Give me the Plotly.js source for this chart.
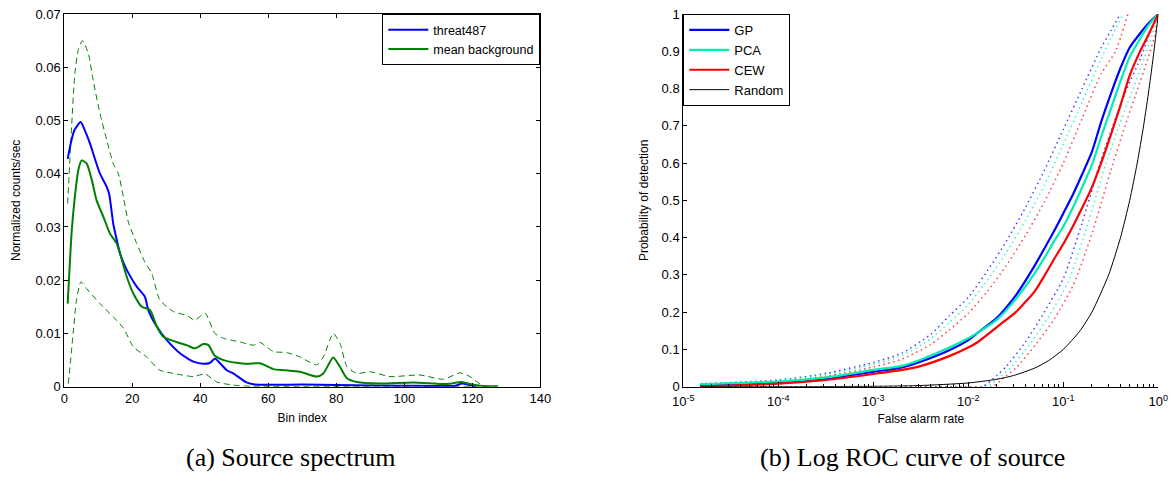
<!DOCTYPE html>
<html>
<head>
<meta charset="utf-8">
<script src="https://cdn.plot.ly/plotly-3.0.1.min.js"></script>
<style>html,body{margin:0;padding:0;background:#fff;}#chart{width:1171px;height:482px;}</style>
</head>
<body>
<div id="chart"></div>
<script>
// ---------- (a) Source spectrum ----------
const threatBins = [1, 2, 3, 4.8, 6, 7.6, 9, 10.5, 12.5, 13.2, 14.4, 15, 16.4, 18.4, 21.3, 23.7, 24.7, 27.2, 30.1, 34, 38, 40.9, 42.9, 44.3, 45.8, 47.8, 49.7, 53.6, 56, 70, 80, 100, 115, 117, 119, 121];
const threatVals = [0.0428, 0.0460, 0.0482, 0.0497, 0.0482, 0.0456, 0.0428, 0.0400, 0.0375, 0.0362, 0.0306, 0.0288, 0.0250, 0.0219, 0.0188, 0.0169, 0.0144, 0.0113, 0.0088, 0.0063, 0.0047, 0.0043, 0.0045, 0.0053, 0.0044, 0.0031, 0.0025, 0.0008, 0.0004, 0.0004, 0.0003, 0.0002, 0.0002, 0.0006, 0.0003, 0.0];

const meanBins = [1, 2.2, 3.1, 4.1, 5.1, 6.6, 8.1, 9.5, 11.5, 13.4, 15.4, 16.4, 18.4, 20.3, 22.8, 25.2, 27.2, 29.1, 33, 36, 38.4, 40.9, 42.4, 44.3, 47.8, 53.6, 57.6, 61.5, 65, 69.3, 74.2, 76.2, 79.1, 81.1, 83.1, 86, 92.8, 102.6, 112.5, 116.9, 119.3, 122.3, 127.6];
const meanVals = [0.0156, 0.0294, 0.0356, 0.0406, 0.0425, 0.0419, 0.0388, 0.0350, 0.0319, 0.0288, 0.0269, 0.0250, 0.0206, 0.0175, 0.0150, 0.0144, 0.0113, 0.0094, 0.0084, 0.0078, 0.0072, 0.0080, 0.0078, 0.0058, 0.0048, 0.0043, 0.0044, 0.0033, 0.0031, 0.0028, 0.0019, 0.0025, 0.0055, 0.0037, 0.0016, 0.0009, 0.0006, 0.0008, 0.0005, 0.0009, 0.0005, 0.0002, 0.0001];

const upperBins = [1, 2.2, 3.1, 4.2, 5.4, 7.1, 8.5, 10.5, 12.5, 14.4, 15.9, 17.4, 18.8, 21.3, 23.7, 25.7, 28.1, 32.1, 36, 38.4, 41.4, 44.3, 46.8, 51.7, 55.6, 57.6, 61.5, 65.4, 69.3, 74.2, 76.2, 79.1, 81.1, 83.1, 86, 89.9, 95.8, 104.6, 111.5, 116.4, 119.3, 122.3, 124];
const upperVals = [0.0344, 0.0494, 0.0588, 0.0635, 0.0650, 0.0625, 0.0575, 0.0513, 0.0463, 0.0419, 0.0400, 0.0356, 0.0310, 0.0269, 0.0234, 0.0213, 0.0163, 0.0141, 0.0134, 0.0125, 0.0138, 0.0100, 0.0091, 0.0084, 0.0078, 0.0083, 0.0066, 0.0064, 0.0056, 0.0041, 0.0056, 0.0100, 0.0081, 0.0038, 0.0025, 0.0028, 0.0019, 0.0022, 0.0014, 0.0026, 0.0019, 0.0005, 0.0];

const lowerBins = [1.2, 2.6, 3.6, 4.9, 6.6, 10.5, 14.4, 17.4, 20.3, 24.2, 28.1, 33, 38, 41.4, 44.8, 49.7, 55, 127];
const lowerVals = [0.0006, 0.0100, 0.0163, 0.0197, 0.0184, 0.0156, 0.0131, 0.0110, 0.0075, 0.0056, 0.0031, 0.0024, 0.0019, 0.0024, 0.0009, 0.0003, 0.0001, 0.0];

// ---------- (b) Log ROC curve ----------
const faGrid = [1.5e-5, 1e-4, 3.2e-4, 1e-3, 2e-3, 3.2e-3, 6.3e-3, 0.01, 0.0126, 0.02, 0.0316, 0.05, 0.063, 0.079, 0.1, 0.126, 0.158, 0.2, 0.25, 0.316, 0.4, 0.5, 0.63, 0.79, 1];
const gpPd  = [0.004, 0.012, 0.022, 0.040, 0.052, 0.068, 0.098, 0.125, 0.145, 0.185, 0.245, 0.325, 0.37, 0.415, 0.465, 0.515, 0.57, 0.63, 0.71, 0.785, 0.855, 0.91, 0.945, 0.975, 1.0];
const pcaPd = [0.006, 0.014, 0.025, 0.045, 0.056, 0.073, 0.105, 0.13, 0.145, 0.18, 0.235, 0.305, 0.345, 0.388, 0.43, 0.48, 0.535, 0.595, 0.67, 0.745, 0.82, 0.885, 0.93, 0.97, 1.0];
const cewPd = [0.001, 0.008, 0.018, 0.034, 0.045, 0.056, 0.082, 0.105, 0.12, 0.16, 0.20, 0.256, 0.297, 0.34, 0.383, 0.43, 0.48, 0.535, 0.60, 0.675, 0.755, 0.835, 0.895, 0.945, 1.0];

const gpUpFa  = [1.5e-5, 1e-4, 3.2e-4, 1e-3, 2e-3, 4e-3, 6.3e-3, 0.01, 0.0158, 0.0251, 0.0398, 0.063, 0.1, 0.158, 0.251, 0.316, 0.398];
const gpUpPd  = [0.008, 0.018, 0.036, 0.065, 0.09, 0.14, 0.19, 0.24, 0.31, 0.39, 0.48, 0.58, 0.69, 0.80, 0.91, 0.955, 1.0];
const pcaUpFa = [1.5e-5, 1e-4, 3.2e-4, 1e-3, 2e-3, 4e-3, 6.3e-3, 0.01, 0.0158, 0.0251, 0.0398, 0.063, 0.1, 0.158, 0.251, 0.316, 0.427];
const pcaUpPd = [0.007, 0.017, 0.033, 0.06, 0.083, 0.128, 0.172, 0.22, 0.285, 0.36, 0.445, 0.54, 0.65, 0.765, 0.88, 0.935, 1.0];
const cewUpFa = [1.5e-5, 1e-4, 3.2e-4, 1e-3, 2e-3, 4e-3, 6.3e-3, 0.01, 0.0158, 0.0251, 0.0398, 0.063, 0.1, 0.158, 0.251, 0.355, 0.479];
const cewUpPd = [0.005, 0.014, 0.028, 0.053, 0.074, 0.113, 0.152, 0.197, 0.255, 0.325, 0.405, 0.495, 0.60, 0.72, 0.84, 0.90, 1.0];

const gpLoFa  = [1.5e-5, 1e-3, 0.01, 0.0141, 0.02, 0.025, 0.04, 0.063, 0.1, 0.158, 0.251, 0.355, 0.468, 0.646, 0.794, 1];
const pcaLoFa = [1.5e-5, 1e-3, 0.01, 0.0158, 0.0224, 0.0282, 0.0447, 0.0708, 0.112, 0.178, 0.282, 0.398, 0.525, 0.708, 0.851, 1];
const cewLoFa = [1.5e-5, 1e-3, 0.01, 0.0178, 0.0251, 0.0316, 0.0501, 0.0794, 0.126, 0.2, 0.316, 0.447, 0.589, 0.776, 0.912, 1];
const gpLoPd  = [0, 0, 0, 0.0, 0.03, 0.054, 0.12, 0.2, 0.29, 0.44, 0.61, 0.72, 0.80, 0.88, 0.94, 1.0];
const pcaLoPd = [0, 0, 0, 0.0, 0.03, 0.052, 0.115, 0.19, 0.28, 0.43, 0.60, 0.71, 0.79, 0.88, 0.94, 1.0];
const cewLoPd = [0, 0, 0, 0.0, 0.03, 0.05, 0.11, 0.18, 0.27, 0.41, 0.58, 0.70, 0.79, 0.88, 0.94, 1.0];

const randomFa = [1.5e-5, 1e-4, 1e-3, 0.003, 0.01, 0.02, 0.03, 0.05, 0.07, 0.1, 0.15, 0.2, 0.3, 0.4, 0.5, 0.6, 0.7, 0.8, 0.9, 1];
const randomPd = [1.5e-5, 1e-4, 1e-3, 0.003, 0.01, 0.02, 0.03, 0.05, 0.07, 0.1, 0.15, 0.2, 0.3, 0.4, 0.5, 0.6, 0.7, 0.8, 0.9, 1];

const xTicksLeft = [0, 20, 40, 60, 80, 100, 120, 140];
const yTicksLeft = [0, 0.01, 0.02, 0.03, 0.04, 0.05, 0.06, 0.07];
const yTickTextLeft = ['0', '0.01', '0.02', '0.03', '0.04', '0.05', '0.06', '0.07'];
const yTicksRight = [0, 0.1, 0.2, 0.3, 0.4, 0.5, 0.6, 0.7, 0.8, 0.9, 1];
const yTickTextRight = ['0', '0.1', '0.2', '0.3', '0.4', '0.5', '0.6', '0.7', '0.8', '0.9', '1'];
const xTicksRight = [1e-5, 1e-4, 1e-3, 1e-2, 1e-1, 1];
const xTickTextRight = ['10<sup>-5</sup>', '10<sup>-4</sup>', '10<sup>-3</sup>', '10<sup>-2</sup>', '10<sup>-1</sup>', '10<sup>0</sup>'];

// minor log tick positions (axis decoration)
const minorTicks = [];
for (let e = -5; e < 0; e++) for (let m = 2; m <= 9; m++) minorTicks.push(m * Math.pow(10, e));

const BLUE = '#0000ff', GREEN = '#008000', MINT = '#00eeb0', RED = '#ff0000';
const DOT = '1.5px,3.5px';
const SPL = {shape: 'spline', smoothing: 0.6};

const traces = [
  {x: upperBins, y: upperVals, mode: 'lines', line: Object.assign({color: GREEN, width: 1, dash: '6px,4px'}, SPL), showlegend: false, xaxis: 'x', yaxis: 'y'},
  {x: lowerBins, y: lowerVals, mode: 'lines', line: Object.assign({color: GREEN, width: 1, dash: '6px,4px'}, SPL), showlegend: false, xaxis: 'x', yaxis: 'y'},
  {x: threatBins, y: threatVals, mode: 'lines', name: 'threat487', line: Object.assign({color: BLUE, width: 2}, SPL), xaxis: 'x', yaxis: 'y', legend: 'legend'},
  {x: meanBins, y: meanVals, mode: 'lines', name: 'mean background', line: Object.assign({color: GREEN, width: 2}, SPL), xaxis: 'x', yaxis: 'y', legend: 'legend'},

  {x: gpUpFa, y: gpUpPd, mode: 'lines', line: Object.assign({color: BLUE, width: 1.5, dash: DOT}, SPL), opacity: 0.75, showlegend: false, xaxis: 'x2', yaxis: 'y2'},
  {x: pcaUpFa, y: pcaUpPd, mode: 'lines', line: Object.assign({color: MINT, width: 1.5, dash: DOT}, SPL), opacity: 0.75, showlegend: false, xaxis: 'x2', yaxis: 'y2'},
  {x: cewUpFa, y: cewUpPd, mode: 'lines', line: Object.assign({color: RED, width: 1.5, dash: DOT}, SPL), opacity: 0.75, showlegend: false, xaxis: 'x2', yaxis: 'y2'},
  {x: gpLoFa, y: gpLoPd, mode: 'lines', line: Object.assign({color: BLUE, width: 1.5, dash: DOT}, SPL), opacity: 0.75, showlegend: false, xaxis: 'x2', yaxis: 'y2'},
  {x: pcaLoFa, y: pcaLoPd, mode: 'lines', line: Object.assign({color: MINT, width: 1.5, dash: DOT}, SPL), opacity: 0.75, showlegend: false, xaxis: 'x2', yaxis: 'y2'},
  {x: cewLoFa, y: cewLoPd, mode: 'lines', line: Object.assign({color: RED, width: 1.5, dash: DOT}, SPL), opacity: 0.75, showlegend: false, xaxis: 'x2', yaxis: 'y2'},

  {x: faGrid, y: gpPd, mode: 'lines', name: 'GP', line: Object.assign({color: BLUE, width: 2.2}, SPL), xaxis: 'x2', yaxis: 'y2', legend: 'legend2'},
  {x: faGrid, y: pcaPd, mode: 'lines', name: 'PCA', line: Object.assign({color: MINT, width: 2.2}, SPL), xaxis: 'x2', yaxis: 'y2', legend: 'legend2'},
  {x: faGrid, y: cewPd, mode: 'lines', name: 'CEW', line: Object.assign({color: RED, width: 2.2}, SPL), xaxis: 'x2', yaxis: 'y2', legend: 'legend2'},
  {x: randomFa, y: randomPd, mode: 'lines', name: 'Random', line: Object.assign({color: '#000000', width: 1}, SPL), xaxis: 'x2', yaxis: 'y2', legend: 'legend2'}
];
traces.forEach(t => { if (t.showlegend === false) t.hoverinfo = 'skip'; });

const FONT = 'Liberation Sans, Arial, sans-serif';
const SERIF = 'Liberation Serif, Times New Roman, serif';
const W = 1171, H = 482;
const yDom = [(H - 386.7) / H, (H - 14) / H];

const layout = {
  width: W, height: H,
  margin: {l: 0, r: 0, t: 0, b: 0},
  paper_bgcolor: '#ffffff', plot_bgcolor: '#ffffff',
  font: {family: FONT, size: 13, color: '#000'},
  showlegend: true,
  xaxis: {
    domain: [64.3 / W, 540.3 / W], range: [0, 140], anchor: 'y',
    tickvals: xTicksLeft, ticks: 'inside', ticklen: 4, tickcolor: '#000',
    showline: true, linecolor: '#000', linewidth: 1, mirror: 'ticks', showgrid: false, zeroline: false,
    title: {text: 'Bin index', font: {size: 12}, standoff: 8}, automargin: false
  },
  yaxis: {
    domain: yDom, range: [0, 0.07], anchor: 'x',
    tickvals: yTicksLeft, ticktext: yTickTextLeft, ticks: 'inside', ticklen: 4, tickcolor: '#000',
    showline: true, linecolor: '#000', linewidth: 1, mirror: 'ticks', showgrid: false, zeroline: false,
    title: {text: 'Normalized counts/sec', font: {size: 12}, standoff: 12}, automargin: false
  },
  xaxis2: {
    domain: [683.3 / W, 1158.3 / W], type: 'log', range: [-5, 0], anchor: 'y2',
    tickvals: xTicksRight, ticktext: xTickTextRight, ticks: 'inside', ticklen: 5, tickcolor: '#000',
    ticklabelstandoff: 3,
    minor: {tickvals: minorTicks, ticks: 'inside', ticklen: 3, tickcolor: '#000', showgrid: false},
    showline: true, linecolor: '#000', linewidth: 1, showgrid: false, zeroline: false,
    title: {text: 'False alarm rate', font: {size: 12}, standoff: 6}, automargin: false
  },
  yaxis2: {
    domain: yDom, range: [0, 1], anchor: 'x2',
    tickvals: yTicksRight, ticktext: yTickTextRight, ticks: 'inside', ticklen: 4, tickcolor: '#000',
    showline: true, linecolor: '#000', linewidth: 1, showgrid: false, zeroline: false,
    title: {text: 'Probability of detection', font: {size: 12}, standoff: 10}, automargin: false
  },
  legend: {
    x: 540.3 / W, xanchor: 'right', y: (H - 14) / H, yanchor: 'top',
    bordercolor: '#000', borderwidth: 1, bgcolor: '#fff',
    font: {family: FONT, size: 12.5}, tracegroupgap: 0, itemwidth: 40
  },
  legend2: {
    x: 683.3 / W, xanchor: 'left', y: (H - 14) / H, yanchor: 'top',
    bordercolor: '#000', borderwidth: 1, bgcolor: '#fff',
    font: {family: FONT, size: 13}, tracegroupgap: 0, itemwidth: 40
  },
  annotations: [
    {text: '(a) Source spectrum', x: 290 / W, y: (H - 457) / H, xref: 'paper', yref: 'paper', xanchor: 'center', yanchor: 'middle', showarrow: false,
     font: {family: SERIF, size: 26, color: '#000'}},
    {text: '(b) Log ROC curve of source', x: 912 / W, y: (H - 457) / H, xref: 'paper', yref: 'paper', xanchor: 'center', yanchor: 'middle', showarrow: false,
     font: {family: SERIF, size: 26, color: '#000'}}
  ]
};

Plotly.newPlot('chart', traces, layout, {displayModeBar: false, staticPlot: true});
</script>
</body>
</html>
